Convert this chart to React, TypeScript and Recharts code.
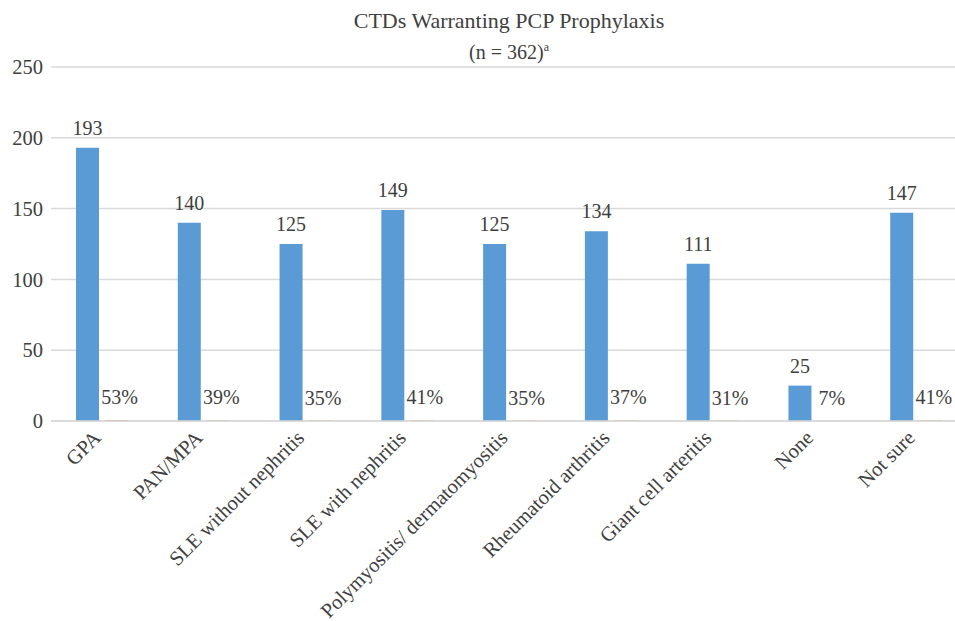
import { Bar, BarChart, CartesianGrid, LabelList, XAxis, YAxis } from "recharts";

const categories = [
  "GPA",
  "PAN/MPA",
  "SLE without nephritis",
  "SLE with nephritis",
  "Polymyositis/ dermatomyositis",
  "Rheumatoid arthritis",
  "Giant cell arteritis",
  "None",
  "Not sure",
];
const counts = [193, 140, 125, 149, 125, 134, 111, 25, 147];
const shares = [0.53, 0.39, 0.35, 0.41, 0.35, 0.37, 0.31, 0.07, 0.41];
const yTicks = [0, 50, 100, 150, 200, 250];

const FONT = "'Liberation Serif', 'DejaVu Serif', serif";
const TEXT = "#404040";

const data = categories.map((name, i) => ({
  name,
  count: counts[i],
  share: shares[i],
}));

const CategoryTick = ({ x, y, payload }: any) => (
  <g transform={`translate(${x},${y + 10})`}>
    <text
      textAnchor="end"
      transform="rotate(-45)"
      fontFamily={FONT}
      fontSize={20.5}
      fill={TEXT}
    >
      {payload.value}
    </text>
  </g>
);

const ShareLabel = ({ x, y, width, value }: any) => (
  <text
    x={x + width / 2 + 3}
    y={y - 16}
    textAnchor="middle"
    fontFamily={FONT}
    fontSize={20}
    fill={TEXT}
  >
    {`${Math.round(value * 100)}%`}
  </text>
);

export default function App() {
  return (
    <div
      style={{
        position: "absolute",
        left: 0,
        top: 0,
        width: 955,
        height: 621,
        overflow: "hidden",
        background: "#fff",
      }}
    >
      <svg
        width={955}
        height={70}
        style={{ position: "absolute", left: 0, top: 0 }}
      >
        <text
          x={509}
          y={28}
          textAnchor="middle"
          fontFamily={FONT}
          fontSize={22}
          fill={TEXT}
        >
          CTDs Warranting PCP Prophylaxis
        </text>
        <text
          x={509}
          y={59}
          textAnchor="middle"
          fontFamily={FONT}
          fontSize={20}
          fill={TEXT}
        >
          (n = 362)
          <tspan fontSize={12} dy={-8}>
            a
          </tspan>
        </text>
      </svg>
      <BarChart
        width={967}
        height={621}
        data={data}
        margin={{ top: 67, right: 0, bottom: 0, left: 11 }}
        barSize={23}
        barGap={6}
      >
        <CartesianGrid vertical={false} stroke="#d9d9d9" strokeWidth={1.5} />
        <XAxis
          dataKey="name"
          height={200}
          interval={0}
          tickLine={false}
          axisLine={{ stroke: "#d9d9d9", strokeWidth: 1.5 }}
          tick={<CategoryTick />}
        />
        <YAxis
          width={40}
          domain={[0, 250]}
          ticks={yTicks}
          axisLine={false}
          tickLine={false}
          tick={{ fontFamily: FONT, fontSize: 20.5, fill: TEXT }}
        />
        <Bar dataKey="count" fill="#5B9BD5" isAnimationActive={false}>
          <LabelList
            dataKey="count"
            position="top"
            offset={13}
            fontFamily={FONT}
            fontSize={20}
            fill={TEXT}
          />
        </Bar>
        <Bar dataKey="share" fill="#ED7D31" isAnimationActive={false}>
          <LabelList dataKey="share" content={<ShareLabel />} />
        </Bar>
      </BarChart>
    </div>
  );
}
